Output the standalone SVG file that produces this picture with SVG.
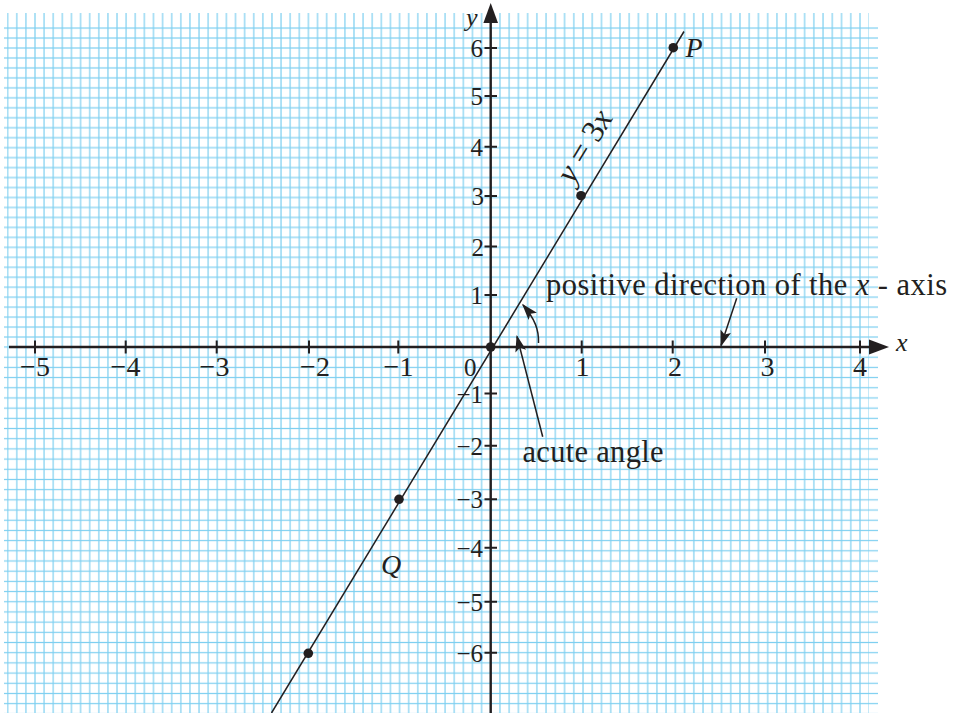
<svg xmlns="http://www.w3.org/2000/svg" width="954" height="713" viewBox="0 0 954 713">
<style>
.g{stroke:#7dcff0;stroke-width:1.2;fill:none}
.ax{stroke:#231f20;stroke-width:2.4;fill:none}
.tk{stroke:#231f20;stroke-width:2;fill:none}
.ln{stroke:#231f20;stroke-width:1.5;fill:none}
.ar{stroke:#231f20;stroke-width:1.5;fill:none;marker-end:url(#ah)}
.dot{fill:#231f20}
text{font-family:"Liberation Serif","Times New Roman",serif;fill:#231f20}
.it{font-style:italic}
.xl{font-size:28px;text-anchor:middle}
.yl{font-size:25px;text-anchor:end}
.ann{font-size:30.5px}
</style>
<defs>
<pattern id="vL" patternUnits="userSpaceOnUse" x="486.143" y="0" width="9.114" height="10"><path class="g" d="M4.557 0V10"/></pattern>
<pattern id="vR" patternUnits="userSpaceOnUse" x="486.084" y="0" width="9.2325" height="10"><path class="g" d="M4.616 0V10"/></pattern>
<pattern id="hT" patternUnits="userSpaceOnUse" x="0" y="342.017" width="10" height="9.9667"><path class="g" d="M0 4.983H10"/></pattern>
<pattern id="hB" patternUnits="userSpaceOnUse" x="0" y="341.905" width="10" height="10.19"><path class="g" d="M0 5.095H10"/></pattern>
<marker id="ah" markerUnits="userSpaceOnUse" orient="auto" viewBox="-17 -7 20 14" refX="0" refY="0" markerWidth="20" markerHeight="14">
<path d="M1.5 0L-15 -5.5L-11.5 0L-15 5.5Z" fill="#231f20"/>
</marker>
</defs>

<g id="grid">
<rect x="7" y="13" width="483" height="700" fill="url(#vL)"/>
<rect x="491" y="13" width="378" height="700" fill="url(#vR)"/>
<rect x="4" y="27" width="874" height="320" fill="url(#hT)"/>
<rect x="4" y="347" width="874" height="366" fill="url(#hB)"/>
</g>

<g id="axes">
<path class="ax" d="M9 347H872"/>
<polygon points="889,347 869,339.5 869,354.5" fill="#231f20"/>
<path class="ax" d="M490.7 713V20"/>
<polygon points="490.7,3 498,23 483.4,23" fill="#231f20"/>
<text class="it" x="896" y="351" font-size="26">x</text>
<text class="it" x="466" y="26" font-size="26">y</text>
</g>

<g id="ticks">
<path class="tk" d="M35 340.5V353.5M125.7 340.5V353.5M216.7 340.5V353.5M309 340.5V353.5M398.3 340.5V353.5M581.7 340.5V353.5M672.7 340.5V353.5M765 340.5V353.5M860 340.5V353.5"/>
<path class="tk" d="M484.5 48H497M484.5 96H497M484.5 146.7H497M484.5 196H497M484.5 246.5H497M484.5 295H497M484.5 393.5H497M484.5 445.7H497M484.5 499.3H497M484.5 547.7H497M484.5 601.7H497M484.5 652.7H497"/>
</g>

<g id="x-labels" class="xl">
<text x="35" y="376">−5</text>
<text x="125.5" y="376">−4</text>
<text x="214.5" y="376">−3</text>
<text x="315" y="376">−2</text>
<text x="398.5" y="376">−1</text>
<text x="582.5" y="376">1</text>
<text x="675" y="376">2</text>
<text x="767.5" y="376">3</text>
<text x="860" y="376">4</text>
</g>
<text id="origin-label" x="464" y="376" font-size="25">0</text>

<g id="y-labels" class="yl">
<text x="483" y="57">6</text>
<text x="483" y="105">5</text>
<text x="483" y="155.5">4</text>
<text x="484" y="205">3</text>
<text x="484" y="255.5">2</text>
<text x="483" y="304">1</text>
<text x="483" y="402.5">−1</text>
<text x="483" y="454.5">−2</text>
<text x="483" y="508">−3</text>
<text x="483" y="556.5">−4</text>
<text x="483" y="610.5">−5</text>
<text x="483" y="661.5">−6</text>
</g>

<g id="graph-line">
<path class="ln" d="M271.5 713L684 31.5"/>
<text transform="translate(573,185) rotate(-58.8)" font-size="32"><tspan class="it">y</tspan> = 3<tspan class="it">x</tspan></text>
</g>

<g id="points">
<circle class="dot" cx="490.7" cy="347" r="4.8"/>
<circle class="dot" cx="581" cy="195.7" r="4.8"/>
<circle class="dot" cx="673.3" cy="47.7" r="4.8"/>
<circle class="dot" cx="399" cy="499.3" r="4.8"/>
<circle class="dot" cx="308.3" cy="653.3" r="4.8"/>
<text class="it" x="685.5" y="57" font-size="28">P</text>
<text class="it" x="381" y="574" font-size="28">Q</text>
</g>

<g id="connectors">
<path class="ar" d="M538.5 343C539 330 535 319 523 305"/>
<path class="ar" d="M736.7 298.3L721 345.5"/>
<path class="ar" d="M542.7 436.7L517 336.5"/>
</g>

<g id="annotations" class="ann">
<text x="546" y="295" textLength="401" lengthAdjust="spacing">positive direction of the <tspan class="it">x</tspan> - axis</text>
<text x="522.5" y="461.7" textLength="141" lengthAdjust="spacing">acute angle</text>
</g>
</svg>
